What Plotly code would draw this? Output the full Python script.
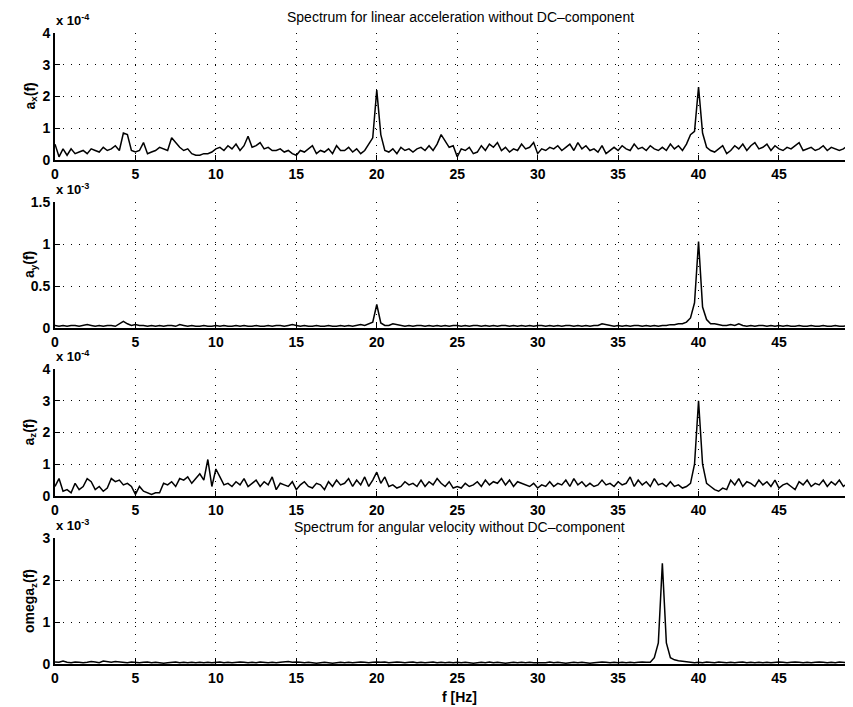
import plotly.graph_objects as go

# Frequency grid (Hz), 0.25 Hz spacing, 0 .. 49.5
freq = [i * 0.25 for i in range(199)]

# a_x(f) in units of 1e-4
ax_vals = [
    0.5, 0.1, 0.35, 0.15, 0.35, 0.2, 0.25, 0.3, 0.2, 0.35, 0.3, 0.25, 0.4, 0.3, 0.35, 0.45, 0.3, 0.85, 0.8, 0.3,
    0.25, 0.3, 0.55, 0.2, 0.25, 0.3, 0.4, 0.35, 0.3, 0.7, 0.55, 0.4, 0.3, 0.35, 0.2, 0.15, 0.15, 0.2, 0.2, 0.25,
    0.35, 0.4, 0.3, 0.45, 0.35, 0.5, 0.3, 0.45, 0.75, 0.4, 0.45, 0.55, 0.35, 0.4, 0.3, 0.3, 0.35, 0.25, 0.3, 0.2,
    0.15, 0.3, 0.25, 0.35, 0.45, 0.2, 0.3, 0.25, 0.35, 0.2, 0.45, 0.3, 0.3, 0.4, 0.25, 0.35, 0.2, 0.3, 0.5, 0.7,
    2.2, 0.8, 0.3, 0.25, 0.35, 0.2, 0.4, 0.3, 0.35, 0.25, 0.35, 0.4, 0.3, 0.45, 0.3, 0.5, 0.8, 0.6, 0.4, 0.45,
    0.1, 0.35, 0.3, 0.4, 0.2, 0.25, 0.45, 0.3, 0.5, 0.4, 0.55, 0.3, 0.4, 0.25, 0.35, 0.3, 0.5, 0.35, 0.4, 0.55,
    0.2, 0.35, 0.3, 0.4, 0.35, 0.45, 0.3, 0.4, 0.5, 0.3, 0.55, 0.35, 0.45, 0.3, 0.35, 0.25, 0.45, 0.2, 0.3, 0.4,
    0.3, 0.45, 0.35, 0.3, 0.5, 0.35, 0.4, 0.3, 0.45, 0.35, 0.3, 0.4, 0.3, 0.5, 0.35, 0.45, 0.3, 0.5, 0.8, 0.9,
    2.3, 0.85, 0.4, 0.3, 0.25, 0.35, 0.45, 0.2, 0.3, 0.45, 0.35, 0.5, 0.3, 0.45, 0.55, 0.35, 0.4, 0.5, 0.3, 0.45,
    0.35, 0.3, 0.4, 0.35, 0.45, 0.55, 0.3, 0.35, 0.4, 0.3, 0.35, 0.45, 0.3, 0.4, 0.35, 0.3, 0.35, 0.45, 0.55,
]

# a_y(f) in units of 1e-3
ay_vals = [
    0.03, 0.02, 0.03, 0.02, 0.03, 0.03, 0.02, 0.03, 0.04, 0.03, 0.02, 0.03, 0.02, 0.03, 0.03, 0.02, 0.05, 0.08, 0.05, 0.03,
    0.04, 0.03, 0.03, 0.02, 0.03, 0.02, 0.03, 0.02, 0.03, 0.03, 0.02, 0.04, 0.03, 0.02, 0.03, 0.02, 0.02, 0.03, 0.02, 0.02,
    0.03, 0.02, 0.03, 0.02, 0.02, 0.03, 0.02, 0.03, 0.02, 0.02, 0.03, 0.02, 0.02, 0.03, 0.02, 0.03, 0.03, 0.02, 0.03, 0.04,
    0.03, 0.02, 0.03, 0.02, 0.02, 0.03, 0.02, 0.02, 0.03, 0.02, 0.02, 0.03, 0.02, 0.03, 0.02, 0.03, 0.04, 0.03, 0.05, 0.07,
    0.28, 0.06, 0.03, 0.03, 0.05, 0.04, 0.03, 0.02, 0.03, 0.02, 0.03, 0.03, 0.02, 0.03, 0.02, 0.03, 0.02, 0.03, 0.02, 0.03,
    0.03, 0.02, 0.03, 0.02, 0.03, 0.03, 0.02, 0.03, 0.02, 0.03, 0.02, 0.03, 0.03, 0.02, 0.03, 0.02, 0.03, 0.02, 0.03, 0.02,
    0.03, 0.03, 0.02, 0.03, 0.02, 0.03, 0.02, 0.03, 0.03, 0.02, 0.03, 0.02, 0.03, 0.02, 0.03, 0.03, 0.05, 0.04, 0.03, 0.02,
    0.03, 0.02, 0.03, 0.02, 0.03, 0.03, 0.02, 0.03, 0.02, 0.03, 0.02, 0.03, 0.03, 0.04, 0.04, 0.05, 0.05, 0.07, 0.12, 0.3,
    1.03, 0.25, 0.1, 0.05, 0.05, 0.04, 0.03, 0.03, 0.04, 0.03, 0.05, 0.03, 0.02, 0.03, 0.02, 0.03, 0.03, 0.02, 0.03, 0.02,
    0.03, 0.02, 0.03, 0.02, 0.02, 0.03, 0.02, 0.02, 0.03, 0.02, 0.02, 0.03, 0.02, 0.02, 0.03, 0.02, 0.02, 0.03, 0.02,
]

# a_z(f) in units of 1e-4
az_vals = [
    0.3, 0.55, 0.15, 0.2, 0.1, 0.4, 0.2, 0.3, 0.55, 0.45, 0.2, 0.3, 0.15, 0.25, 0.55, 0.45, 0.5, 0.35, 0.4, 0.3,
    0.05, 0.3, 0.15, 0.1, 0.05, 0.1, 0.1, 0.4, 0.35, 0.45, 0.3, 0.55, 0.5, 0.6, 0.4, 0.55, 0.7, 0.5, 1.15, 0.3,
    0.85, 0.6, 0.35, 0.4, 0.3, 0.45, 0.35, 0.55, 0.3, 0.4, 0.5, 0.3, 0.45, 0.35, 0.6, 0.2, 0.4, 0.35, 0.3, 0.45,
    0.2, 0.35, 0.45, 0.3, 0.25, 0.4, 0.35, 0.2, 0.45, 0.3, 0.5, 0.35, 0.4, 0.55, 0.3, 0.5, 0.35, 0.6, 0.3, 0.5,
    0.75, 0.4, 0.6, 0.3, 0.35, 0.25, 0.3, 0.45, 0.35, 0.4, 0.3, 0.5, 0.3, 0.45, 0.35, 0.55, 0.4, 0.3, 0.45, 0.25,
    0.3, 0.25, 0.4, 0.3, 0.35, 0.45, 0.3, 0.5, 0.35, 0.45, 0.4, 0.55, 0.35, 0.5, 0.3, 0.45, 0.4, 0.35, 0.3, 0.4,
    0.25, 0.35, 0.3, 0.45, 0.3, 0.4, 0.35, 0.5, 0.3, 0.55, 0.35, 0.45, 0.3, 0.4, 0.3, 0.35, 0.5, 0.35, 0.4, 0.3,
    0.45, 0.35, 0.4, 0.6, 0.3, 0.5, 0.35, 0.45, 0.3, 0.55, 0.35, 0.4, 0.3, 0.45, 0.3, 0.35, 0.25, 0.3, 0.4, 1.0,
    3.0, 1.0, 0.4, 0.3, 0.2, 0.15, 0.25, 0.2, 0.5, 0.35, 0.55, 0.3, 0.45, 0.4, 0.3, 0.5, 0.35, 0.45, 0.3, 0.5,
    0.25, 0.35, 0.4, 0.3, 0.2, 0.45, 0.35, 0.5, 0.3, 0.4, 0.35, 0.5, 0.3, 0.45, 0.35, 0.5, 0.3, 0.4, 0.3,
]

# omega_z(f) in units of 1e-3
om_vals = [
    0.05, 0.04, 0.07, 0.04, 0.03, 0.05, 0.04, 0.03, 0.04, 0.06, 0.05, 0.03, 0.07, 0.05, 0.04, 0.06, 0.05, 0.04, 0.03, 0.05,
    0.04, 0.03, 0.04, 0.05, 0.03, 0.04, 0.03, 0.02, 0.03, 0.04, 0.05, 0.03, 0.04, 0.03, 0.04, 0.03, 0.04, 0.03, 0.04, 0.03,
    0.04, 0.05, 0.03, 0.04, 0.03, 0.04, 0.05, 0.04, 0.03, 0.04, 0.03, 0.05, 0.04, 0.03, 0.04, 0.03, 0.04, 0.05, 0.06, 0.04,
    0.05, 0.04, 0.03, 0.04, 0.03, 0.02, 0.03, 0.04, 0.03, 0.02, 0.03, 0.04, 0.03, 0.04, 0.03, 0.04, 0.05, 0.04, 0.03, 0.04,
    0.05, 0.04, 0.05, 0.03, 0.04, 0.05, 0.04, 0.03, 0.04, 0.05, 0.03, 0.04, 0.03, 0.04, 0.05, 0.03, 0.04, 0.03, 0.04, 0.03,
    0.04, 0.03, 0.04, 0.03, 0.02, 0.03, 0.04, 0.03, 0.05, 0.03, 0.04, 0.03, 0.02, 0.03, 0.04, 0.03, 0.04, 0.03, 0.04, 0.03,
    0.03, 0.04, 0.03, 0.05, 0.03, 0.04, 0.03, 0.02, 0.03, 0.04, 0.03, 0.04, 0.03, 0.02, 0.03, 0.04, 0.05, 0.04, 0.03, 0.04,
    0.03, 0.04, 0.03, 0.04, 0.03, 0.04, 0.05, 0.04, 0.04, 0.15, 0.5, 2.4, 0.5, 0.15, 0.1, 0.08, 0.07, 0.05, 0.04, 0.03,
    0.04, 0.03, 0.05, 0.04, 0.03, 0.05, 0.04, 0.03, 0.04, 0.03, 0.04, 0.05, 0.03, 0.04, 0.03, 0.04, 0.03, 0.04, 0.03, 0.04,
    0.05, 0.04, 0.03, 0.04, 0.05, 0.04, 0.03, 0.04, 0.03, 0.04, 0.05, 0.04, 0.03, 0.04, 0.03, 0.05, 0.04, 0.03, 0.04,
]

x_ticks = [0, 5, 10, 15, 20, 25, 30, 35, 40, 45]

panels = [
    dict(vals=ax_vals, exp=-4, yticks=[0, 1, 2, 3, 4], ymax=4, label="a<sub>x</sub>(f)"),
    dict(vals=ay_vals, exp=-3, yticks=[0, 0.5, 1, 1.5], ymax=1.5, label="a<sub>y</sub>(f)"),
    dict(vals=az_vals, exp=-4, yticks=[0, 1, 2, 3, 4], ymax=4, label="a<sub>z</sub>(f)"),
    dict(vals=om_vals, exp=-3, yticks=[0, 1, 2, 3], ymax=3, label="omega<sub>z</sub>(f)"),
]

# The page body adds an 8px offset; size the figure to fill the rest of the window
OFF = 8
WIN_W, WIN_H = 853, 707
W, H = WIN_W - OFF, WIN_H - OFF


def px(xr):
    return (xr - OFF) / W


def py(yr):
    return 1 - (yr - OFF) / H


# reference-pixel top/bottom of each plot area
px_tb = [(33, 160), (202, 328), (369, 496), (538, 664)]
x_left = px(55)

fig = go.Figure()
font_fam = "Liberation Sans, Arial, Helvetica, sans-serif"
grid_dash = "1px,7px"
layout = dict(
    template="none",
    width=W, height=H, margin=dict(l=0, r=0, t=0, b=0, pad=0, autoexpand=False),
    paper_bgcolor="white", plot_bgcolor="white", showlegend=False,
    font=dict(family=font_fam, color="black", size=13),
)
annotations = []

for k, p in enumerate(panels):
    n = k + 1
    scale = 10.0 ** p["exp"]
    yvals = [v * scale for v in p["vals"]]
    xa = "x" if n == 1 else f"x{n}"
    ya = "y" if n == 1 else f"y{n}"
    fig.add_trace(go.Scatter(x=freq, y=yvals, mode="lines", xaxis=xa, yaxis=ya,
                             line=dict(color="black", width=1.5), hoverinfo="skip"))
    top, bot = px_tb[k]
    dom = [py(bot), py(top)]
    layout[f"xaxis{'' if n == 1 else n}"] = dict(
        domain=[x_left, 1.0], range=[0, 49.6], anchor=ya, automargin=False,
        tickvals=x_ticks, ticktext=[str(t) for t in x_ticks],
        ticks="inside", ticklen=5, tickcolor="black", tickwidth=1,
        showline=True, linecolor="black", linewidth=2, mirror=False,
        showgrid=True, gridcolor="black", gridwidth=1, griddash=grid_dash,
        zeroline=False, tickfont=dict(size=14, weight="bold"),
    )
    layout[f"yaxis{'' if n == 1 else n}"] = dict(
        domain=dom, range=[0, p["ymax"] * scale], anchor=xa, automargin=False,
        tickvals=[t * scale for t in p["yticks"]], ticktext=[f"{t:g}" for t in p["yticks"]],
        ticks="inside", ticklen=5, tickcolor="black", tickwidth=1,
        showline=True, linecolor="black", linewidth=2, mirror=False,
        showgrid=True, gridcolor="black", gridwidth=1, griddash=grid_dash,
        zeroline=False, tickfont=dict(size=14, weight="bold"),
    )
    # exponent label
    annotations.append(dict(
        text=f"x 10<sup>{p['exp']}</sup>", xref="paper", yref="paper",
        x=px(54), y=py(top - 3), xanchor="left", yanchor="bottom",
        showarrow=False, font=dict(size=13, weight="bold"),
    ))
    # y label
    annotations.append(dict(
        text=p["label"], xref="paper", yref="paper", textangle=-90,
        x=px(30), y=(dom[0] + dom[1]) / 2, xanchor="center", yanchor="middle",
        showarrow=False, font=dict(size=14, weight="bold"),
    ))

annotations.append(dict(
    text="Spectrum for linear acceleration without DC–component", xref="paper", yref="paper",
    x=px(460), y=py(17), xanchor="center", yanchor="middle", showarrow=False,
    font=dict(size=14),
))
annotations.append(dict(
    text="Spectrum for angular velocity without DC–component", xref="paper", yref="paper",
    x=px(459), y=py(527), xanchor="center", yanchor="middle", showarrow=False,
    font=dict(size=14),
))
annotations.append(dict(
    text="f [Hz]", xref="paper", yref="paper",
    x=px(459), y=py(697), xanchor="center", yanchor="middle", showarrow=False,
    font=dict(size=14, weight="bold"),
))
layout["annotations"] = annotations
fig.update_layout(**layout)
fig.write_html("out.html")
